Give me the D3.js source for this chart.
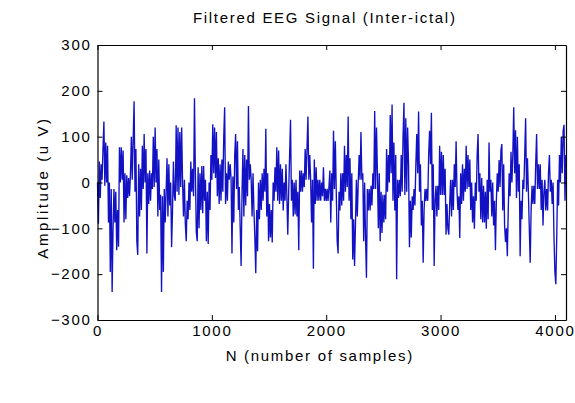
<!DOCTYPE html>
<html><head><meta charset="utf-8">
<script src="https://cdn.jsdelivr.net/npm/d3@7"></script>
<style>body{margin:0;background:#fff}svg{display:block}</style>
</head><body><svg id="chart" width="575" height="403"></svg>
<script>
const chartTitle = "Filtered EEG Signal (Inter-ictal)";
const xAxisLabel = "N (number of samples)";
const yAxisLabel = "Amplitude (u V)";
const xTickValues = [0, 1000, 2000, 3000, 4000];
const yTickValues = [-300, -200, -100, 0, 100, 200, 300];
const xDomain = [0, 4097];
const yDomain = [-300, 300];
const sampleStep = 8; // every 8th sample
const amplitude = [
  // samples 0-672
  0,-90,46,-34,40,6,73,133,-7,87,
  0,80,-87,0,-195,-14,-239,-100,-14,-87,
  -20,-148,-60,-140,77,0,77,6,70,-87,
  20,-80,16,-34,10,-30,16,100,6,95,
  177,-20,73,-128,-158,40,-74,30,-60,80,
  -14,106,0,73,-155,20,-47,26,-40,20,
  -14,100,-10,120,0,73,-74,50,-60,-27,
  -239,-30,-195,-14,-87,-20,53,-74,40,-50,
  0,-141,-60,46,-30,
  // samples 680-1344
  -40,125,-20,120,-27,110,-10,120,0,-74,
  6,-90,-128,-40,-80,0,-60,46,-20,30,
  -30,184,20,-108,-128,33,-100,20,-60,36,
  -67,36,-40,6,-128,-20,-134,0,-60,60,
  6,127,20,120,10,110,-30,53,-47,40,
  -40,50,-20,100,164,-47,20,-40,46,6,
  40,10,-155,13,-87,60,106,-14,90,-60,
  -10,-101,-182,-20,73,-74,60,-50,50,-30,
  167,6,40,6,
  // samples 1352-2032
  -74,20,-60,-120,-198,-60,-150,0,-80,6,
  -60,20,-40,30,-20,117,-74,20,-128,-47,
  -120,-60,-131,0,-40,33,-20,77,-40,70,
  -47,40,-40,30,-61,0,-40,40,-30,-114,
  -20,60,137,-40,6,-74,0,-70,6,-74,
  -20,-148,26,-20,26,-20,20,-10,73,6,
  73,144,6,60,6,-87,6,-188,50,-47,
  33,-40,6,-40,6,-40,0,-30,33,-40,
  -14,-40,-14,-40,-10,26,
  // samples 2040-2720
  -87,20,-40,113,-14,90,-20,-128,-155,-20,
  -61,20,-50,20,-40,80,-20,60,-10,144,
  -40,53,-80,20,-168,-80,-182,-90,6,-74,
  0,60,6,110,6,20,-128,0,-120,-208,
  -14,-61,-14,-61,-7,-50,20,-14,156,-14,
  120,20,-100,20,-128,-20,-110,-27,-87,-27,
  -80,73,-20,60,0,147,20,170,-40,87,
  -61,60,-211,6,-34,6,-30,60,-20,100,
  174,-27,140,-20,120,40,
  // samples 2728-3392
  -141,-40,-120,-30,-60,-14,-50,40,106,20,
  155,-20,40,-94,-40,-175,-60,-14,-40,-14,
  -40,60,113,40,152,-60,40,-182,-40,-7,
  -74,-7,-60,80,-27,67,-27,60,-27,30,
  -114,-47,-100,-114,-47,6,-74,6,-60,40,
  -10,90,-20,-60,-30,-121,20,-47,40,-40,
  30,-20,80,-14,60,-10,50,-60,0,-87,
  -30,-101,0,-40,60,106,-20,20,-80,10,
  -87,-7,-87,-20,
  // samples 3400-4096
  -101,6,-80,87,-20,6,-74,0,-94,-40,
  -148,-40,20,-20,49,-10,70,84,-61,40,
  -94,-130,-100,-161,-60,20,-30,67,0,60,
  164,20,114,-34,100,-20,40,-161,-40,-80,
  6,-14,60,140,-20,53,-20,-100,-175,-60,
  -7,-47,-7,-47,40,106,-14,40,-14,40,
  -60,6,-94,-20,6,-61,-14,-61,20,60,
  -20,6,-47,0,-120,-195,-222,-120,6,-50,
  60,0,100,20,113,126,-40,60
];

const svg = d3.select("#chart");
const W = 575, H = 403;
const margin = {left: 97.5, right: 9, top: 45, bottom: 83};
const x = d3.scaleLinear().domain(xDomain).range([margin.left, W - margin.right]);
const y = d3.scaleLinear().domain(yDomain).range([H - margin.bottom, margin.top]);
const font = "'Liberation Sans', Arial, Helvetica, sans-serif";
const fs = 15, ls = 1.7;

const points = amplitude.map((v, i) => [i * sampleStep, v]);

svg.append("rect").attr("width", W).attr("height", H).attr("fill", "#fff");

svg.append("path")
  .datum(points)
  .attr("fill", "none")
  .attr("stroke", "#1212c4")
  .attr("stroke-width", 1.35)
  .attr("stroke-linejoin", "miter")
  .attr("d", d3.line().x(d => x(d[0])).y(d => y(d[1])));

const tickLen = 5;
const fmt = d3.format("d");
const gB = svg.append("g").attr("transform", `translate(0,${y(-300)})`)
  .call(d3.axisBottom(x).tickValues(xTickValues).tickFormat(fmt).tickSizeInner(-tickLen).tickSizeOuter(0).tickPadding(5));
const gT = svg.append("g").attr("transform", `translate(0,${y(300)})`)
  .call(d3.axisTop(x).tickValues(xTickValues).tickSizeInner(-tickLen).tickSizeOuter(0).tickFormat(""));
const gL = svg.append("g").attr("transform", `translate(${x(0)},0)`)
  .call(d3.axisLeft(y).tickValues(yTickValues).tickFormat(fmt).tickSizeInner(-tickLen).tickSizeOuter(0).tickPadding(6));
const gR = svg.append("g").attr("transform", `translate(${x(4097)},0)`)
  .call(d3.axisRight(y).tickValues(yTickValues).tickSizeInner(-tickLen).tickSizeOuter(0).tickFormat(""));
[gB, gT, gL, gR].forEach(g => {
  g.selectAll(".domain").attr("stroke", "#000").attr("stroke-width", 1.2);
  g.selectAll(".tick line").attr("stroke", "#000");
  g.selectAll("text").attr("font-family", font).attr("font-size", fs)
    .attr("letter-spacing", ls).attr("fill", "#000");
});

const cx = (x(0) + x(4097)) / 2;
svg.append("text").attr("x", cx - 7).attr("y", 23)
  .attr("text-anchor", "middle").attr("font-family", font).attr("font-size", fs)
  .attr("letter-spacing", ls).text(chartTitle);
svg.append("text").attr("x", cx - 12).attr("y", 361)
  .attr("text-anchor", "middle").attr("font-family", font).attr("font-size", fs)
  .attr("letter-spacing", ls).text(xAxisLabel);
svg.append("text").attr("transform", `translate(48,${(y(300) + y(-300)) / 2 + 5}) rotate(-90)`)
  .attr("text-anchor", "middle").attr("font-family", font).attr("font-size", fs)
  .attr("letter-spacing", 2.6).text(yAxisLabel);
</script></body></html>
